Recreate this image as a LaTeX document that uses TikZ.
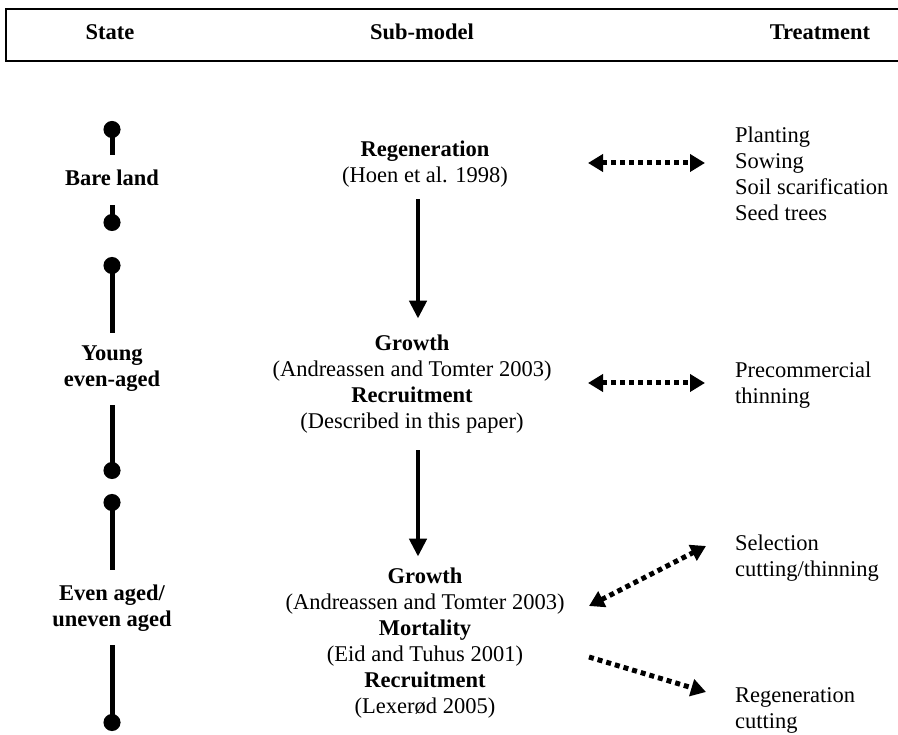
\documentclass[tikz,border=0pt]{standalone}
\usepackage{fontspec}
\setmainfont{Liberation Serif}
\usetikzlibrary{arrows.meta}

\begin{document}
\begin{tikzpicture}[x=1pt,y=-1pt,
    every node/.style={font=\fontsize{22.5}{26}\selectfont, inner sep=2pt},
    state/.style={font=\fontsize{22.5}{26}\selectfont\bfseries, align=center},
    submodel/.style={align=center},
    treat/.style={align=left, anchor=west},
    stick/.style={line width=5pt, {Circle[length=17pt]}-},
    flow/.style={line width=4.5pt, -{Triangle[length=18pt,width=17pt]}},
    dots/.style={line width=5pt, dash pattern=on 5pt off 4pt,
        >={Triangle[length=15pt,width=17pt]}}
]

    \useasboundingbox (0,0) rectangle (898,735);

    \draw[line width=2pt] (898,9) -- (6,9) -- (6,61) -- (898,61);
    \node[state] (hstate) at (110,32) {State};
    \node[state] (hsub) at (422,32) {Sub-model};
    \node[state] (htreat) at (820,32) {Treatment};

    \node[state] (bare) at (112,178) {Bare land};
    \node[state] (young) at (112,369) {Young\\even-aged};
    \node[state] (even) at (112,608) {Even aged/\\uneven aged};

    \coordinate (s1) at (112,121);
    \coordinate (e1) at (112,155);
    \coordinate (s2) at (112,231);
    \coordinate (e2) at (112,205);
    \coordinate (s3) at (112,257);
    \coordinate (e3) at (112,333);
    \coordinate (s4) at (112,479);
    \coordinate (e4) at (112,405);
    \coordinate (s5) at (112,494);
    \coordinate (e5) at (112,570);
    \coordinate (s6) at (112,731);
    \coordinate (e6) at (112,645);
    \draw[stick] (s1) -- (e1);
    \draw[stick] (s2) -- (e2);
    \draw[stick] (s3) -- (e3);
    \draw[stick] (s4) -- (e4);
    \draw[stick] (s5) -- (e5);
    \draw[stick] (s6) -- (e6);

    \node[submodel] (regen) at (425,164)
        {\textbf{Regeneration}\\(Hoen et al. 1998)};
    \node[submodel] (young sub) at (412,384)
        {\textbf{Growth}\\(Andreassen and Tomter 2003)\\
        \textbf{Recruitment}\\(Described in this paper)};
    \node[submodel] (even sub) at (425,643)
        {\textbf{Growth}\\(Andreassen and Tomter 2003)\\
        \textbf{Mortality}\\(Eid and Tuhus 2001)\\
        \textbf{Recruitment}\\(Lexerød 2005)};

    \draw[flow, shorten <=10pt, shorten >=14pt]
        ([xshift=-7pt]regen.south) -- ([xshift=6pt]young sub.north);
    \draw[flow, shorten <=15pt, shorten >=9pt]
        ([xshift=6pt]young sub.south) -- ([xshift=-7pt]even sub.north);

    \node[treat] (bare treat) at (733,174)
        {Planting\\Sowing\\Soil scarification\\Seed trees};
    \node[treat] (young treat) at (733,385) {Precommercial\\thinning};
    \node[treat] (select treat) at (733,558) {Selection\\cutting/thinning};
    \node[treat] (regen treat) at (733,710) {Regeneration\\cutting};

    \coordinate (p1) at (588,163);
    \coordinate (q1) at (705,163);
    \coordinate (p2) at (588,383);
    \coordinate (q2) at (705,383);
    \coordinate (p3) at (589,606);
    \coordinate (q3) at (706,546);
    \coordinate (p4) at (589,657);
    \coordinate (q4) at (706,692);
    \draw[dots, <->] (p1) -- (q1);
    \draw[dots, <->] (p2) -- (q2);
    \draw[dots, <->] (p3) -- (q3);
    \draw[dots, ->] (p4) -- (q4);

\end{tikzpicture}
\end{document}
